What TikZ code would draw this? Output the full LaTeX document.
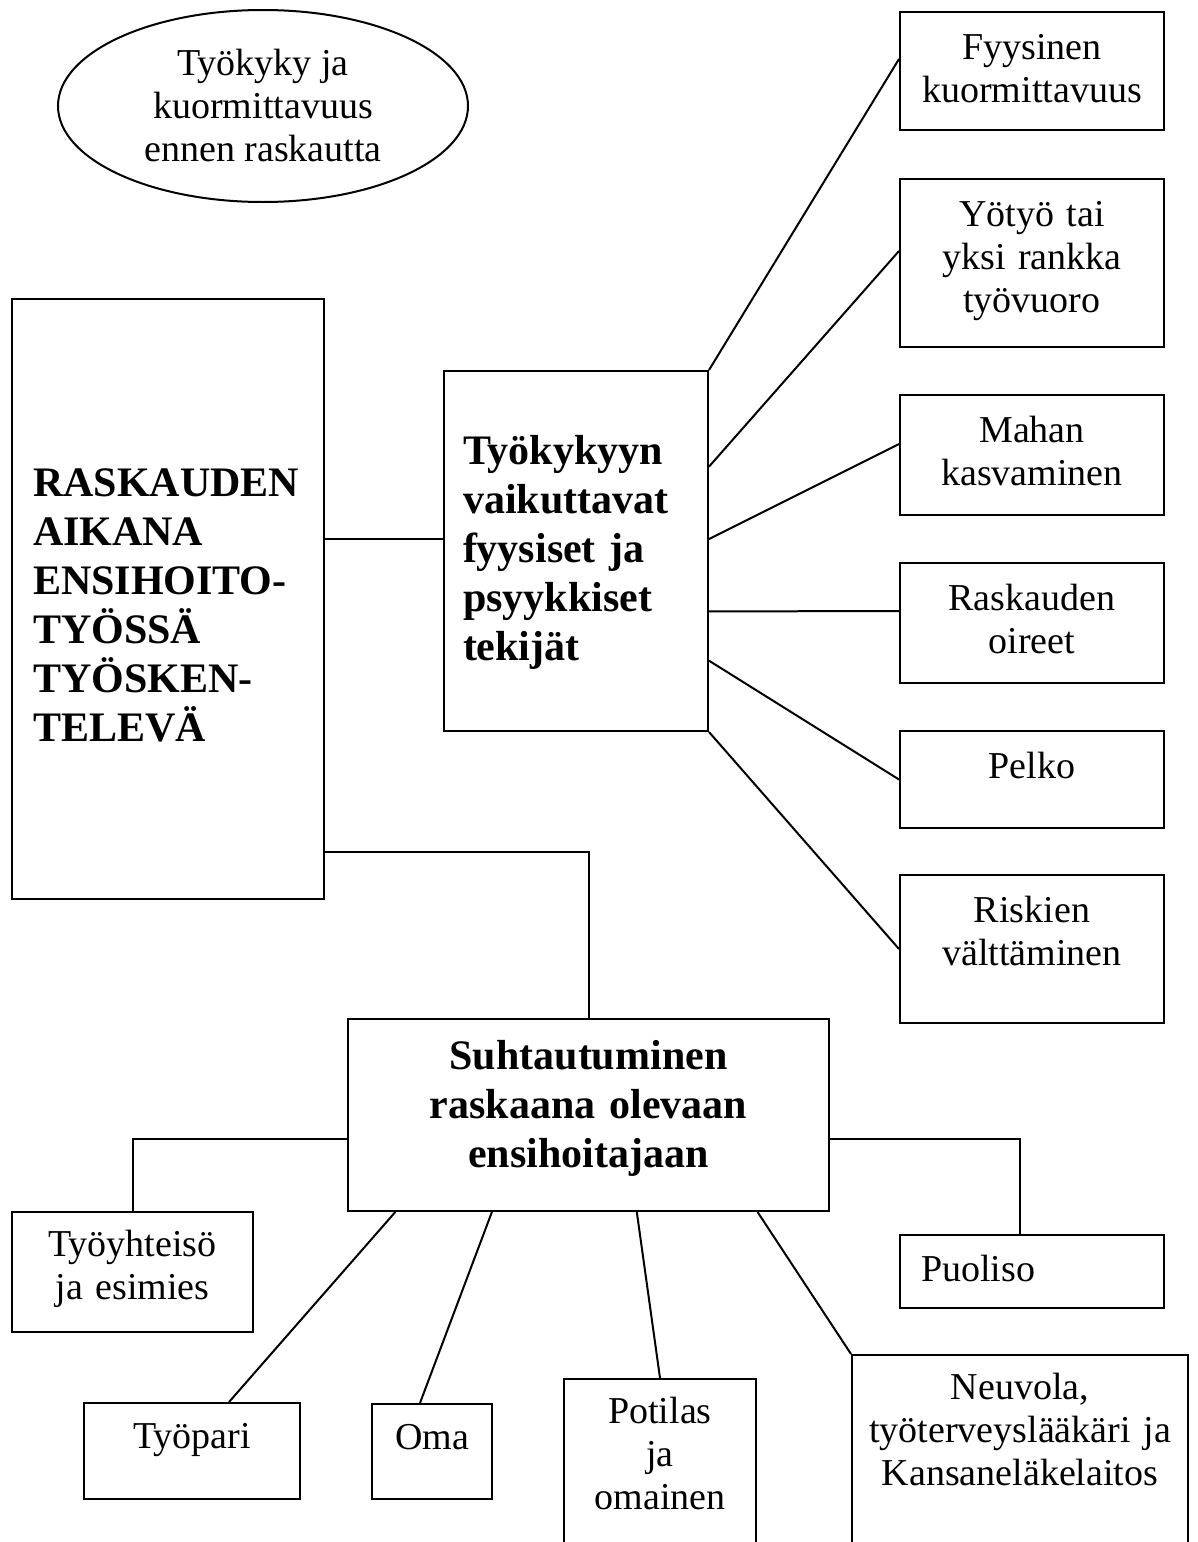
\documentclass[tikz,border=0pt]{standalone}
\usepackage{fontspec}
\setmainfont{Liberation Serif}
\usepackage{tikz}
\usetikzlibrary{positioning,shapes.geometric,calc}
\newcommand{\txtN}{\fontsize{19}{21.5}\selectfont}
\newcommand{\txtB}{\fontsize{21}{24.5}\selectfont\bfseries}
\tikzset{
  box/.style  ={rectangle, draw=black, line width=1pt, anchor=north west,
                align=center, font=\txtN, inner xsep=0pt, inner ysep=0pt,
                text height=23.5pt},
  boxB/.style ={box, font=\txtB},                 % paatekijat
  oval/.style ={ellipse, draw=black, line width=1pt, align=center, font=\txtN,
                minimum width=205pt, minimum height=96pt, inner sep=0pt},
  link/.style ={line width=1pt, draw=black},
}

\begin{document}
\begin{tikzpicture}[x=0.5pt, y=-0.5pt]
  \useasboundingbox (0,0) rectangle (1198,1542);
  \clip (0,0) rectangle (1198,1542);
  % vasen puoli
  \node[oval] (ennen) at (263,106) {Työkyky ja\\kuormittavuus\\ennen raskautta};
  \node[boxB, align=left, inner xsep=10.5pt, text width=135pt,
        text height=98.5pt, text depth=201.5pt] (raskaus) at (11,298)
        {RASKAUDEN\\AIKANA\\ENSIHOITO-\\TYÖSSÄ\\TYÖSKEN-\\TELEVÄ};
  \node[boxB, align=left, inner xsep=9.5pt, text width=113pt,
        text height=46.5pt, text depth=133.5pt] (tek) at (443,370)
        {Työkykyyn\\vaikuttavat\\fyysiset ja\\psyykkiset\\tekijät};
  % oikea sarake
  \node[box, text width=132pt, text depth=35.5pt] (fyys)  at (899,11)  {Fyysinen\\kuormittavuus};
  \node[box, text width=132pt, text depth=60.5pt] (yoty)  at (899,178) {Yötyö tai\\yksi rankka\\työvuoro};
  \node[box, text width=132pt, text depth=36.5pt] (maha)  at (899,394) {Mahan\\kasvaminen};
  \node[box, text width=132pt, text depth=36.5pt] (oire)  at (899,562) {Raskauden\\oireet};
  \node[box, text width=132pt, text depth=25pt]   (pelko) at (899,730) {Pelko};
  \node[box, text width=132pt, text depth=50.5pt] (riski) at (899,874) {Riskien\\välttäminen};
  % suhtautuminen
  \node[boxB, text width=240.5pt, text height=25pt, text depth=71pt] (suht) at (347,1018)
        {Suhtautuminen\\raskaana olevaan\\ensihoitajaan};
  \node[box, text width=120.5pt, text height=22pt, text depth=38pt]   (yht)  at (11,1211)  {Työyhteisö\\ja esimies};
  \node[box, text width=108pt, text height=22.5pt, text depth=25.5pt] (pari) at (83,1402)  {Työpari};
  \node[box, text width=60pt, text height=22.5pt, text depth=25pt]    (oma)  at (371,1403) {Oma};
  \node[box, text width=96pt, text height=22pt, text depth=75pt]      (poti) at (563,1378) {Potilas\\ja\\omainen};
  \node[box, align=left, inner xsep=10.5pt, text width=111pt,
        text height=23pt, text depth=13.5pt] (puol) at (899,1234) {Puoliso};
  \node[box, text width=168pt, text height=22pt, text depth=90pt]     (neuv) at (851,1354)
        {Neuvola,\\työterveyslääkäri ja\\Kansaneläkelaitos};

  \coordinate (tekL) at ($(tek.north west)!0.467!(tek.south west)$);
  \draw[link] (raskaus.east |- tekL) -- (tekL);
  \draw[link] ($(raskaus.north east)!0.92!(raskaus.south east)$) -| (suht.north);

  \draw[link] (tek.north east) -- ([yshift=6pt]fyys.west);
  \draw[link] ($(tek.north east)!0.267!(tek.south east)$) -- ([yshift=6pt]yoty.west);
  \draw[link] ($(tek.north east)!0.467!(tek.south east)$) -- ([yshift=5.5pt]maha.west);
  \draw[link] ($(tek.north east)!0.667!(tek.south east)$) -- ([yshift=6pt]oire.west);
  \draw[link] ($(tek.north east)!0.803!(tek.south east)$) -- (pelko.west);
  \draw[link] (tek.south east) -- (riski.west);

  \draw[link] ($(suht.north west)!0.625!(suht.south west)$) -| (yht.north);
  \draw[link] ($(suht.north east)!0.625!(suht.south east)$) -| ([xshift=-6pt]puol.north);
  \draw[link] ($(suht.south west)!0.1!(suht.south east)$) -- ([xshift=18.5pt]pari.north);
  \draw[link] ($(suht.south west)!0.3!(suht.south east)$) -- ([xshift=-6pt]oma.north);
  \draw[link] ($(suht.south west)!0.6!(suht.south east)$) -- (poti.north);
  \draw[link] ($(suht.south west)!0.85!(suht.south east)$) -- (neuv.north west);
\end{tikzpicture}
\end{document}
